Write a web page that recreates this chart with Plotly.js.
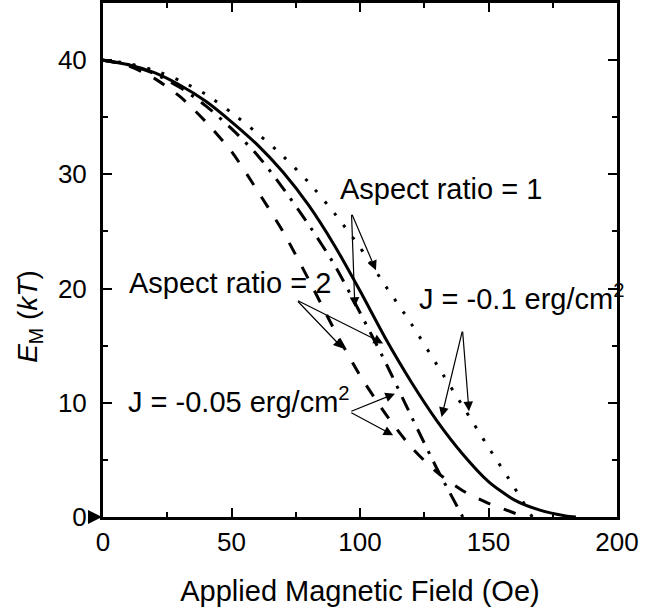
<!DOCTYPE html>
<html>
<head>
<meta charset="utf-8">
<script src="https://cdn.plot.ly/plotly-3.0.1.min.js"></script>
<style>html,body{margin:0;padding:0;background:#fff;}#chart{width:665px;height:610px;}</style>
</head>
<body>
<div id="chart"></div>
<script>
// Aspect ratio = 2, J = -0.1 erg/cm^2 (solid)
const field_ar2_j010 = [0,10,20,30,40,50,60,70,80,90,100,110,120,130,140,150,160,170,180,184];
const em_ar2_j010    = [40,39.6,38.9,37.8,36.4,34.6,32.6,30.2,27.3,23.8,19.8,15.6,11.8,8.4,5.5,3.1,1.5,0.6,0.1,0];
// Aspect ratio = 1, J = -0.1 erg/cm^2 (dotted)
const field_ar1_j010 = [0,10,20,30,40,50,60,70,80,90,100,110,120,130,140,150,160,167];
const em_ar1_j010    = [40,39.7,39.1,38.2,37.0,35.4,33.6,31.6,29.3,26.6,23.6,20.2,16.9,13.3,9.7,6.1,2.6,0];
// Aspect ratio = 2, J = -0.05 erg/cm^2 (dashed)
const field_ar2_j005 = [0,10,20,30,40,50,60,70,80,90,100,110,120,130,140,150,160,164];
const em_ar2_j005    = [40,39.5,38.4,36.8,34.6,32.0,28.6,25.0,20.8,16.4,12.4,9.0,6.1,3.9,2.3,1.2,0.35,0];
// Aspect ratio = 1, J = -0.05 erg/cm^2 (dash-dot)
const field_ar1_j005 = [0,10,20,30,40,50,60,70,80,90,100,110,120,130,135,140];
const em_ar1_j005    = [40,39.6,38.8,37.6,36.0,34.0,31.7,28.8,25.6,22.1,17.9,13.5,8.8,4.2,2.1,0];

const xTitle = 'Applied Magnetic Field (Oe)';
const yTitle = '<i>E</i><sub>M</sub> (<i>kT</i>)';
const labelAR1 = 'Aspect ratio = 1';
const labelAR2 = 'Aspect ratio = 2';
const labelJ010 = 'J = -0.1 erg/cm<sup>2</sup>';
const labelJ005 = 'J = -0.05 erg/cm<sup>2</sup>';

const FONT = 'Liberation Sans, Arial, sans-serif';

function tr(x, y, dash, w) {
  return {x: x, y: y, type: 'scatter', mode: 'lines',
    line: {color: '#000', width: w, dash: dash, shape: 'spline', smoothing: 0.7},
    hoverinfo: 'skip', showlegend: false, cliponaxis: true};
}

const data = [
  tr(field_ar1_j010, em_ar1_j010, '3px,12px', 3),
  tr(field_ar2_j005, em_ar2_j005, '13px,14px', 3),
  tr(field_ar1_j005, em_ar1_j005, '15px,9px,3px,9px', 3),
  tr(field_ar2_j010, em_ar2_j010, 'solid', 3)
];

function arrow(tx, ty, hx, hy) {
  return {x: hx, y: hy, ax: tx, ay: ty, xref: 'x', yref: 'y', axref: 'x', ayref: 'y',
    text: '', showarrow: true, arrowhead: 2, arrowsize: 1.6, arrowwidth: 1.2, arrowcolor: '#000'};
}
function label(t, x, y) {
  return {x: x, y: y, xref: 'x', yref: 'y', text: t, showarrow: false,
    xanchor: 'left', yanchor: 'middle', font: {family: FONT, size: 29, color: '#000'}};
}

const annotations = [
  label(labelAR1, 91.5, 28.7),
  label(labelAR2, 9.3, 20.5),
  label(labelJ010, 122.0, 19.3),
  label(labelJ005, 9.0, 10.2),
  arrow(96.7, 26.6, 98.0, 18.4),
  arrow(96.7, 26.6, 106.2, 21.6),
  arrow(75.3, 19.0, 93.4, 14.75),
  arrow(75.3, 19.0, 109.0, 15.2),
  arrow(139.9, 16.36, 131.75, 8.76),
  arrow(139.9, 16.36, 142.4, 9.26),
  arrow(96.05, 9.2, 113.6, 10.8),
  arrow(96.05, 9.2, 112.9, 7.16),
  {x: 0, y: 0, xref: 'x', yref: 'y', ax: -9, ay: 0, text: '', showarrow: true,
   arrowhead: 2, arrowsize: 1.4, arrowwidth: 2, arrowcolor: '#000', standoff: 1},
  {x: -0.1427, y: 0.3907, xref: 'paper', yref: 'paper', text: yTitle, textangle: -90,
   showarrow: false, xanchor: 'center', yanchor: 'middle', font: {family: FONT, size: 28, color: '#000'}}
];

const axisCommon = {
  showgrid: false, zeroline: false, showline: true, linecolor: '#000', linewidth: 3,
  mirror: 'ticks', ticks: 'inside', ticklen: 9, tickwidth: 2, tickcolor: '#000',
  tickfont: {family: FONT, size: 26, color: '#000'}
};

const layout = {
  width: 665, height: 610,
  margin: {l: 103, r: 48, t: 3, b: 93},
  paper_bgcolor: '#fff', plot_bgcolor: '#fff',
  font: {family: FONT, color: '#000'},
  xaxis: Object.assign({}, axisCommon, {
    range: [0, 200], tick0: 0, dtick: 50,
    minor: {dtick: 25, ticks: 'inside', ticklen: 5, tickwidth: 2, tickcolor: '#000'},
    title: {text: xTitle, font: {family: FONT, size: 29, color: '#000'}, standoff: 25}
  }),
  yaxis: Object.assign({}, axisCommon, {
    range: [0, 45], tick0: 0, dtick: 10, ticklabelstandoff: 8,
    minor: {dtick: 5, ticks: 'inside', ticklen: 5, tickwidth: 2, tickcolor: '#000'}
  }),
  annotations: annotations,
  showlegend: false
};

Plotly.newPlot('chart', data, layout, {displayModeBar: false, staticPlot: true});
</script>
</body>
</html>
